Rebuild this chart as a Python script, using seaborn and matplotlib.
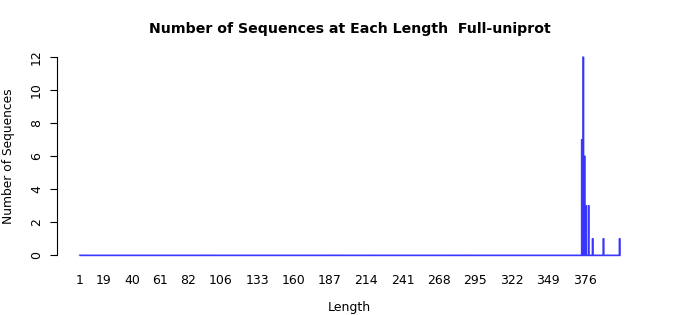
import numpy as np
import pandas as pd
import matplotlib
matplotlib.use("Agg")
import matplotlib.pyplot as plt
import seaborn as sns

# ---- data ----
max_length = 402
peak_lengths = [374, 375, 376, 377, 379, 382, 390, 402]
peak_counts = [7, 12, 6, 3, 3, 1, 1, 1]
tick_labels = [1, 19, 40, 61, 82, 106, 133, 160, 187, 214, 241, 268, 295, 322, 349, 376]
y_ticks = [0, 2, 4, 6, 8, 10, 12]
title = "Number of Sequences at Each Length  Full-uniprot"

lengths = list(range(1, max_length + 1))
counts = [0] * len(lengths)
for L, c in zip(peak_lengths, peak_counts):
    counts[L - 1] = c
df = pd.DataFrame({"length": lengths, "count": counts})

sns.set_style("white")
plt.rcParams["font.family"] = ["DejaVu Sans"]

fig = plt.figure(figsize=(7, 3.15), dpi=100)
ax = fig.add_axes([57 / 700, 1 - 263 / 315, 585 / 700, 214 / 315])

sns.barplot(data=df, x="length", y="count", native_scale=True, orient="x",
            color="#4200a8", edgecolor="#3838ff", linewidth=0.75, width=0.83,
            saturation=1, errorbar=None, ax=ax)
for p in ax.patches:
    p.set_snap(False)

# zero-count bars in the reference show as a continuous blue baseline
ax.hlines(0, lengths[0] - 0.415, lengths[-1] + 0.415, color="#3838ff", linewidth=1.0, zorder=3)

ax.set_xlim(0.5 - 0.04 * max_length, max_length + 0.5 + 0.04 * max_length)
ax.set_ylim(-0.04 * max(peak_counts), max(peak_counts) * 1.04)

for s in ["top", "right", "bottom"]:
    ax.spines[s].set_visible(False)
ax.spines["left"].set_bounds(0, max(peak_counts))
ax.spines["left"].set_color("black")
ax.spines["left"].set_linewidth(0.8)

ax.set_xticks(tick_labels)
ax.set_xticklabels([str(t) for t in tick_labels], fontsize=9)
ax.tick_params(axis="x", length=0, pad=8, colors="black")
ax.set_yticks(y_ticks)
ax.set_yticklabels([str(t) for t in y_ticks], fontsize=9, rotation=90, va="center")
ax.tick_params(axis="y", length=5, width=0.8, pad=5, colors="black", left=True)

ax.set_xlabel("Length", fontsize=9, color="black")
ax.xaxis.set_label_coords(0.5, (263 - 307) / 214)
ax.xaxis.label.set_va("center")
ax.set_ylabel("Number of Sequences", fontsize=8.8, color="black")
ax.yaxis.set_label_coords((9 - 57) / 585, 0.5)
ax.yaxis.label.set_va("center")

fig.text(0.5, 1 - 29 / 315, title, ha="center", va="center",
         fontsize=10.2, fontweight="bold", color="black")

fig.savefig("out.png", dpi=100)
